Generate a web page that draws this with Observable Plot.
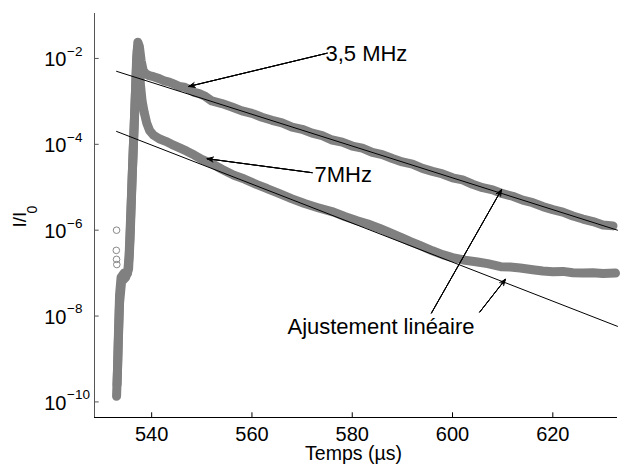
<!DOCTYPE html>
<html><head><meta charset="utf-8">
<script src="https://cdn.jsdelivr.net/npm/d3@7"></script>
<script src="https://cdn.jsdelivr.net/npm/@observablehq/plot@0.6"></script>
<style>body{margin:0;background:#fff}</style>
</head><body><div id="chart"></div>
<script>
// ---- data (time in µs, intensity exponent log10(I/I0)) ----
const t35 = [533.0,533.2,533.4,533.6,533.9,534.5,535.2,535.5,535.9,536.3,536.7,537.0,537.25,537.55,537.9,538.3,538.8,539.5,540.5,541.5,542.5,543.5,544.5,545.5,546.5,547.5,548.5,549.5,550.5,
  552,554,556,558,560,562,564,566,568,570,572,574,576,578,580,582,584,586,588,590,592,594,596,598,600,602,604,606,608,610,612,614,616,618,620,622,624,626,628,630,632];
const e35 = [-9.87,-9.2,-8.3,-7.5,-7.1,-7.0,-7.0,-6.6,-5.4,-4.2,-3.0,-2.0,-1.62,-1.72,-2.05,-2.28,-2.36,-2.40,-2.43,-2.47,-2.52,-2.55,-2.60,-2.65,-2.67,-2.72,-2.79,-2.82,-2.87,
  -2.99,-3.05,-3.13,-3.22,-3.28,-3.37,-3.44,-3.50,-3.60,-3.65,-3.74,-3.80,-3.90,-3.95,-4.04,-4.09,-4.19,-4.24,-4.33,-4.41,-4.46,-4.56,-4.63,-4.69,-4.78,-4.83,-4.93,-5.01,-5.06,-5.15,-5.21,-5.30,-5.36,-5.45,-5.52,-5.58,-5.67,-5.74,-5.80,-5.88,-5.90];
const t7 = [533.1,533.35,533.6,534.0,534.8,535.4,535.7,536.1,536.5,536.9,537.15,537.35,537.55,537.75,538.1,538.5,539.0,539.6,540.4,541.5,542.8,544.0,545.7,547.0,548.5,550.0,552.0,554.0,556.4,558.5,561.0,563.0,565.5,568.0,570.5,573.0,576.3,578.5,581.0,583.0,585.5,587.5,589.6,591.5,593.6,596.0,598.0,600.0,602.5,605.0,607.0,609.6,611.5,613.5,616.0,618.0,620.0,622.0,624.0,626.0,628.0,630.0,632.5];
const e7 = [-9.6,-8.6,-7.7,-7.2,-7.1,-6.9,-6.2,-4.8,-3.6,-2.4,-1.8,-1.7,-2.1,-2.6,-3.0,-3.25,-3.5,-3.68,-3.79,-3.87,-3.93,-4.00,-4.09,-4.16,-4.25,-4.35,-4.45,-4.58,-4.72,-4.81,-4.94,-5.03,-5.15,-5.27,-5.38,-5.47,-5.58,-5.68,-5.78,-5.85,-5.96,-6.06,-6.16,-6.26,-6.36,-6.48,-6.57,-6.64,-6.70,-6.74,-6.78,-6.85,-6.86,-6.88,-6.92,-6.95,-6.97,-6.96,-6.99,-7.00,-6.99,-7.01,-7.00];
const tOut = [533.0,532.95,533.0,533.05];
const eOut = [-6.0,-6.47,-6.68,-6.80];
const fitT = [533.0,632.9];
const fit35 = [-2.30,-6.00];
const fit7 = [-3.70,-8.24];
const xTicks = [540,560,580,600,620];
const yTickExp = [-2,-4,-6,-8,-10];
const annText = ["3,5 MHz","7MHz","Ajustement linéaire"];
const annT = [574.86,572.67,567.28];
const annE = [-2.063,-4.879,-8.409];
const arrT1 = [575.0,572.0,595.8,605.43];
const arrE1 = [-1.877,-4.661,-7.929,-7.906];
const arrT2 = [547.4,551.07,609.76,610.55];
const arrE2 = [-2.652,-4.335,-5.056,-7.144];
const xDomain = [528.6,632.9];
const yDomainExp = [-10.363,-0.953];

// ---- build tables ----
const toRows = (ts, es) => ts.map((t,i) => ({t, I: Math.pow(10, es[i])}));
const s35 = toRows(t35, e35), s7 = toRows(t7, e7), outl = toRows(tOut, eOut);
const f35 = toRows(fitT, fit35), f7 = toRows(fitT, fit7);
const ann = annText.map((s,i) => ({s, t: annT[i], I: Math.pow(10, annE[i])}));
const arr = arrT1.map((t,i) => ({t1: t, I1: Math.pow(10, arrE1[i]), t2: arrT2[i], I2: Math.pow(10, arrE2[i])}));
const yMin = Math.pow(10, yDomainExp[0]);
const FONT = "'Liberation Sans', Arial, Helvetica, sans-serif";
const band = {x: "t", y: "I", stroke: "#808080", strokeWidth: 9, strokeLinecap: "round", strokeLinejoin: "round"};
const arrowOpts = (len, ang) => ({x1: "t1", y1: "I1", x2: "t2", y2: "I2", stroke: "black", strokeWidth: 1, headLength: len, headAngle: ang});

const plot = Plot.plot({
  width: 622, height: 464,
  marginLeft: 94, marginRight: 5, marginTop: 13, marginBottom: 47,
  x: {domain: xDomain, axis: null},
  y: {type: "log", domain: yDomainExp.map(e => Math.pow(10, e)), axis: null},
  style: {fontFamily: FONT, background: "white", color: "black"},
  marks: [
    Plot.line(s7, band),
    Plot.line(s35, band),
    Plot.dot(outl, {x: "t", y: "I", r: 3.3, stroke: "#888", strokeWidth: 1, fill: "none"}),
    Plot.line(f35, {x: "t", y: "I", stroke: "black", strokeWidth: 1}),
    Plot.line(f7, {x: "t", y: "I", stroke: "black", strokeWidth: 1}),
    // axes
    Plot.ruleX([xDomain[0]], {stroke: "#555", strokeWidth: 1}),
    Plot.ruleY([yMin], {stroke: "black", strokeWidth: 1}),
    Plot.ruleY(yTickExp, {y: d => Math.pow(10, d), x1: xDomain[0], x2: xDomain[0] + 4.7/5.015, stroke: "#555"}),
    Plot.ruleX(xTicks, {x: d => d, y1: yMin, y2: yMin * Math.pow(10, 4.7/42.96), stroke: "black"}),
    Plot.text(yTickExp, {y: d => Math.pow(10, d), text: () => "10", frameAnchor: "left", textAnchor: "end", lineAnchor: "bottom", dx: -28, dy: 8, fontSize: 20}),
    Plot.text(yTickExp, {y: d => Math.pow(10, d), text: d => "\u2212" + Math.abs(d), frameAnchor: "left", textAnchor: "start", lineAnchor: "bottom", dx: -27.5, dy: -2.6, fontSize: 13.5}),
    Plot.text(xTicks, {x: d => d, text: d => String(d), frameAnchor: "bottom", lineAnchor: "bottom", dy: 23.5, fontSize: 20}),
    Plot.text(["Temps (\u00b5s)"], {frameAnchor: "bottom", lineAnchor: "bottom", dx: -2.5, dy: 42, fontSize: 19.5}),
    Plot.text(["I/I"], {frameAnchor: "left", rotate: -90, textAnchor: "start", lineAnchor: "bottom", dx: -69, dy: 12, fontSize: 19}),
    Plot.text(["0"], {frameAnchor: "left", rotate: -90, textAnchor: "start", lineAnchor: "bottom", dx: -57.5, dy: -2, fontSize: 14}),
    // annotations
    Plot.text(ann, {x: "t", y: "I", text: "s", textAnchor: "start", lineAnchor: "bottom", dx: -1, fontSize: 22}),
    Plot.arrow(arr, arrowOpts(10, 45)),
    Plot.arrow(arr, arrowOpts(8.5, 30)),
    Plot.arrow(arr, arrowOpts(7.5, 15))
  ]
});
document.getElementById("chart").appendChild(plot);
</script>
</body></html>
